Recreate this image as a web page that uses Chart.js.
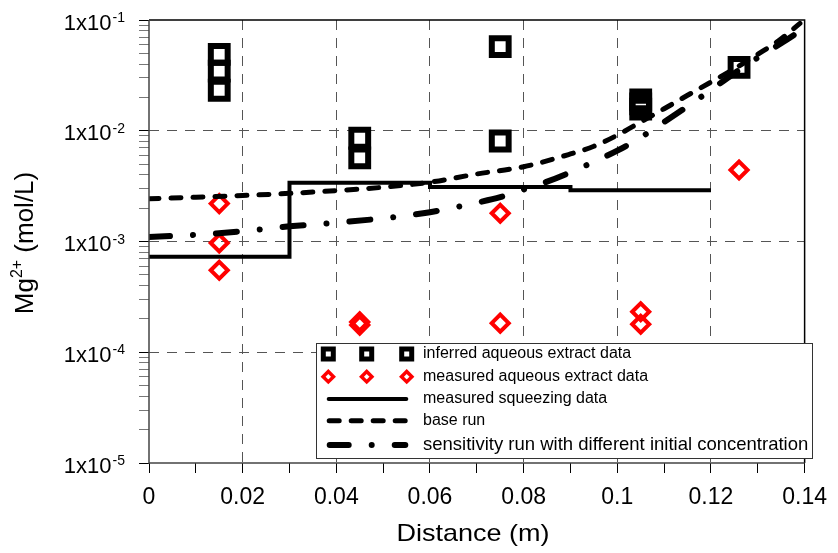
<!DOCTYPE html>
<html>
<head>
<meta charset="utf-8">
<script src="https://cdn.jsdelivr.net/npm/chart.js@4.4.1/dist/chart.umd.min.js"></script>
<style>
  html, body { margin: 0; padding: 0; background: #fff; }
  #wrap { width: 838px; height: 553px; }
</style>
</head>
<body>
<div id="wrap"><canvas id="c" width="838" height="553"></canvas></div>
<script>
  // ---- data ----
  const inferredX = [0.015, 0.015, 0.015, 0.045, 0.045, 0.075, 0.075, 0.105, 0.105, 0.105, 0.126];
  const inferredY = [0.049, 0.0346, 0.0232, 0.00855, 0.00568, 0.0574, 0.00808, 0.0190, 0.0175, 0.0157, 0.0374];

  const measuredX = [0.015, 0.015, 0.015, 0.045, 0.045, 0.075, 0.075, 0.105, 0.105, 0.126];
  const measuredY = [0.0022, 0.00097, 0.00055, 0.000188, 0.000176, 0.0018, 0.000183, 0.000232, 0.000179, 0.00442];

  const squeezeX = [0, 0.03, 0.03, 0.06, 0.06, 0.09, 0.09, 0.12];
  const squeezeY = [0.00073, 0.00073, 0.0034, 0.0034, 0.0031, 0.0031, 0.0029, 0.0029];

  const baseX = [0, 0.01, 0.02, 0.03, 0.04, 0.05, 0.06, 0.07, 0.08, 0.09, 0.095, 0.1, 0.105, 0.11, 0.115, 0.12, 0.125, 0.13, 0.135, 0.139];
  const baseY = [0.00243, 0.00251, 0.00260, 0.00272, 0.00288, 0.00309, 0.00343, 0.00407, 0.00473, 0.00617, 0.00724, 0.00912, 0.0120, 0.0158, 0.0209, 0.0275, 0.0363, 0.0490, 0.0676, 0.0933];

  const sensX = [0, 0.01, 0.02, 0.03, 0.04, 0.05, 0.06, 0.07, 0.075, 0.08, 0.085, 0.09, 0.095, 0.1, 0.105, 0.11, 0.115, 0.12, 0.125, 0.13, 0.135, 0.139];
  const sensY = [0.00110, 0.00115, 0.00124, 0.00137, 0.00148, 0.00162, 0.00184, 0.00224, 0.00251, 0.00295, 0.00347, 0.00422, 0.00525, 0.00661, 0.00871, 0.0120, 0.0166, 0.0234, 0.0331, 0.0457, 0.0617, 0.0794];

  const xTicks = [0, 0.01, 0.02, 0.03, 0.04, 0.05, 0.06, 0.07, 0.08, 0.09, 0.1, 0.11, 0.12, 0.13, 0.14];
  const xTickLabels = ['0', '', '0.02', '', '0.04', '', '0.06', '', '0.08', '', '0.1', '', '0.12', '', '0.14'];
  const yDecades = [-5, -4, -3, -2, -1];
  const labels = [
    'inferred aqueous extract data',
    'measured aqueous extract data',
    'measured squeezing data',
    'base run',
    'sensitivity run with different initial concentration'
  ];

  const FONT = '"Liberation Sans", Arial, sans-serif';
  const GRID = '#555';
  const RED = '#ff0000';

  const pts = (xs, ys) => xs.map((x, i) => ({ x: x, y: ys[i] }));

  // minor + major ticks for the log axis
  const yTicks = [];
  yDecades.forEach(e => {
    if (e === -1) { yTicks.push(0.1); return; }
    for (let m = 1; m <= 9; m++) yTicks.push(m * Math.pow(10, e));
  });
  const isMajor = v => {
    const l = Math.log10(v);
    return Math.abs(l - Math.round(l)) < 1e-6;
  };

  function fitText(ctx, text, cx, by, font, width) {
    ctx.font = font;
    const w = ctx.measureText(text).width;
    ctx.save();
    ctx.translate(cx, by);
    ctx.scale(width / w, 1);
    ctx.textAlign = 'center';
    ctx.fillText(text, 0, 0);
    ctx.restore();
  }

  // frame, superscript tick labels, axis titles and the legend
  const decor = {
    id: 'decor',
    afterDatasetsDraw(chart) {
      const { ctx, chartArea: a, scales: { y } } = chart;
      ctx.save();

      // plot frame
      ctx.setLineDash([]);
      ctx.lineWidth = 1.5;
      ctx.strokeStyle = '#000';
      ctx.beginPath();
      ctx.moveTo(a.left, a.top); ctx.lineTo(a.right, a.top); ctx.lineTo(a.right, a.bottom);
      ctx.stroke();
      ctx.strokeStyle = '#444';
      ctx.beginPath();
      ctx.moveTo(a.left, a.top); ctx.lineTo(a.left, a.bottom); ctx.lineTo(a.right, a.bottom);
      ctx.stroke();

      // y tick labels 1x10^n
      ctx.fillStyle = '#000';
      ctx.textBaseline = 'alphabetic';
      ctx.textAlign = 'left';
      yDecades.forEach(e => {
        const py = y.getPixelForValue(Math.pow(10, e));
        const sup = String(e);
        ctx.font = '14px ' + FONT;
        const sw = ctx.measureText(sup).width;
        ctx.font = '22px ' + FONT;
        const mw = ctx.measureText('1x10').width;
        const right = 125;
        ctx.fillText('1x10', right - sw - 1 - mw, py + 9.5);
        ctx.font = '14px ' + FONT;
        ctx.fillText(sup, right - sw, py + 2);
      });

      // x title
      fitText(ctx, 'Distance (m)', 473, 541, '24px ' + FONT, 153);

      // y title
      ctx.save();
      ctx.translate(33, 243);
      ctx.rotate(-Math.PI / 2);
      ctx.font = '26px ' + FONT;
      const w1 = ctx.measureText('Mg').width;
      const w3 = ctx.measureText(' (mol/L)').width;
      ctx.font = '16px ' + FONT;
      const w2 = ctx.measureText('2+').width;
      const s = -(w1 + w2 + w3) / 2;
      ctx.textAlign = 'left';
      ctx.font = '26px ' + FONT;
      ctx.fillText('Mg', s, 0);
      ctx.fillText(' (mol/L)', s + w1 + w2, 0);
      ctx.font = '16px ' + FONT;
      ctx.fillText('2+', s + w1, -11);
      ctx.restore();

      // legend
      const L = { x: 316.5, y: 343.5, w: 496, h: 115 };
      ctx.fillStyle = '#fff';
      ctx.fillRect(L.x, L.y, L.w, L.h);
      ctx.lineWidth = 1;
      ctx.strokeStyle = '#333';
      ctx.strokeRect(L.x, L.y, L.w, L.h);

      const rows = [354, 376.7, 399, 420.7, 445];
      const mx = [328.3, 366.7, 406.7];
      // squares
      ctx.strokeStyle = '#000';
      ctx.lineWidth = 5;
      mx.forEach(x => ctx.strokeRect(x - 5, rows[0] - 5, 10, 10));
      // diamonds
      ctx.strokeStyle = RED;
      ctx.lineWidth = 3.5;
      mx.forEach(x => {
        const r = 5.2, cy = rows[1];
        ctx.beginPath();
        ctx.moveTo(x - r, cy); ctx.lineTo(x, cy - r); ctx.lineTo(x + r, cy); ctx.lineTo(x, cy + r);
        ctx.closePath();
        ctx.stroke();
      });
      // line samples
      ctx.strokeStyle = '#000';
      const seg = (cy, lw, dash, cap) => {
        ctx.lineWidth = lw;
        ctx.lineCap = cap;
        ctx.setLineDash(dash);
        ctx.beginPath();
        ctx.moveTo(326.7 + (cap === 'round' ? lw / 2 : 0), cy);
        ctx.lineTo(408.3 - (cap === 'round' ? lw / 2 : 0), cy);
        ctx.stroke();
      };
      seg(rows[2], 4, [], 'round');
      seg(rows[3], 5, [10, 12], 'round');
      seg(rows[4], 6, [19, 23, 0.01, 23], 'round');
      ctx.setLineDash([]);

      ctx.fillStyle = '#000';
      ctx.textBaseline = 'middle';
      ctx.textAlign = 'left';
      labels.forEach((t, i) => {
        ctx.font = (i === 4 ? '18.5px ' : '16px ') + FONT;
        ctx.fillText(t, 423, rows[i]);
      });

      ctx.restore();
    }
  };

  new Chart(document.getElementById('c'), {
    type: 'scatter',
    data: {
      datasets: [
        {
          label: labels[2],
          data: pts(squeezeX, squeezeY),
          showLine: true,
          pointRadius: 0,
          borderColor: '#000',
          borderWidth: 4,
          order: 0
        },
        {
          label: labels[3],
          data: pts(baseX, baseY),
          showLine: true,
          pointRadius: 0,
          borderColor: '#000',
          borderWidth: 5,
          borderDash: [10, 12],
          borderCapStyle: 'round',
          cubicInterpolationMode: 'monotone',
          order: 0
        },
        {
          label: labels[4],
          data: pts(sensX, sensY),
          showLine: true,
          pointRadius: 0,
          borderColor: '#000',
          borderWidth: 6,
          borderDash: [21, 23, 0.01, 23],
          borderCapStyle: 'round',
          cubicInterpolationMode: 'monotone',
          order: 0
        },
        {
          label: labels[0],
          data: pts(inferredX, inferredY),
          showLine: false,
          pointStyle: 'rect',
          pointRadius: 11.9,
          pointBorderWidth: 6,
          pointBorderColor: '#000',
          pointBackgroundColor: 'rgba(0,0,0,0)',
          order: 1
        },
        {
          label: labels[1],
          data: pts(measuredX, measuredY),
          showLine: false,
          pointStyle: 'rectRot',
          pointRadius: 8.5,
          pointBorderWidth: 4,
          pointBorderColor: RED,
          pointBackgroundColor: 'rgba(0,0,0,0)',
          order: 1
        }
      ]
    },
    options: {
      responsive: false,
      animation: false,
      events: [],
      layout: { padding: { top: 20, right: 26, left: 0, bottom: 0 } },
      plugins: { legend: { display: false }, tooltip: { enabled: false } },
      scales: {
        x: {
          type: 'linear',
          min: 0,
          max: 0.14,
          afterBuildTicks: s => { s.ticks = xTicks.map(v => ({ value: v })); },
          afterFit: s => { s.height = 90; },
          ticks: {
            autoSkip: false,
            maxRotation: 0,
            padding: 11,
            color: '#000',
            font: { family: FONT, size: 23 },
            callback: (v, i) => xTickLabels[i]
          },
          grid: {
            color: c => {
              if (!c.tick) return 'transparent';
              const k = Math.round(c.tick.value * 100);
              return (k % 2 === 0 && k > 0 && k < 14) ? GRID : 'transparent';
            },
            tickColor: '#000',
            tickLength: 10,
            lineWidth: 1,
            borderDash: [10, 8]
          },
          border: { display: false, dash: [10, 8] }
        },
        y: {
          type: 'logarithmic',
          min: 1e-5,
          max: 1e-1,
          afterBuildTicks: s => { s.ticks = yTicks.map(v => ({ value: v, major: isMajor(v) })); },
          afterFit: s => { s.width = 149; },
          ticks: { display: false, autoSkip: false },
          grid: {
            color: c => {
              if (!c.tick) return 'transparent';
              const v = c.tick.value;
              return (isMajor(v) && v > 2e-5 && v < 0.05) ? GRID : 'transparent';
            },
            tickColor: c => (c.tick && isMajor(c.tick.value)) ? '#000' : '#777',
            tickLength: 10,
            lineWidth: 1,
            borderDash: [10, 8]
          },
          border: { display: false, dash: [10, 8] }
        }
      }
    },
    plugins: [decor]
  });
</script>
</body>
</html>
